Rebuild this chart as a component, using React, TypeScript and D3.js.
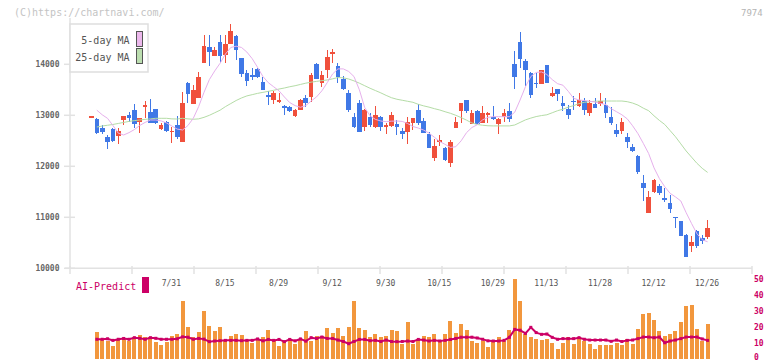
import React from "react";
import * as d3 from "d3";

const dates = [
  "7/9","7/10","7/11","7/12","7/16","7/17","7/18","7/19","7/22","7/23","7/24","7/25","7/26","7/29","7/30","7/31",
  "8/1","8/2","8/5","8/6","8/7","8/8","8/9","8/13","8/14","8/15","8/16","8/19","8/20","8/21","8/22","8/23","8/26","8/27","8/28","8/29","8/30",
  "9/2","9/3","9/4","9/5","9/6","9/9","9/10","9/11","9/12","9/13","9/17","9/18","9/19","9/20","9/24","9/25","9/26","9/27","9/30",
  "10/1","10/2","10/3","10/4","10/7","10/8","10/9","10/10","10/11","10/15","10/16","10/17","10/18","10/21","10/22","10/23","10/24","10/25","10/28","10/29","10/30","10/31",
  "11/1","11/5","11/6","11/7","11/8","11/11","11/12","11/13","11/14","11/15","11/18","11/19","11/20","11/21","11/22","11/25","11/26","11/28","11/29",
  "12/2","12/3","12/4","12/5","12/6","12/9","12/10","12/11","12/12","12/13","12/16","12/17","12/18","12/19","12/20","12/23","12/24","12/25","12/26"
];

const openP = [12975,12927,12757,12569,12731,12600,12908,13006,13104,12875,13169,13059,13124,12737,12875,12667,12810,12482,13633,13227,13345,14031,14345,14169,14431,14182,14392,14561,14129,13835,13790,13902,13659,13398,13300,13286,13188,13169,12992,13104,13345,13365,14012,13639,13888,14208,13967,13712,13443,12961,13235,12776,12961,12776,12973,12776,12796,12829,12692,12678,12855,13104,12894,12633,12157,12482,12365,12071,12745,13090,13300,12829,13090,12855,13006,12973,12829,12961,13084,14006,14431,14065,13835,13639,13608,13986,13384,13510,13241,13124,13286,13182,13280,13051,13222,13222,13202,12961,12712,12698,12569,12384,12202,11678,11090,11502,11614,11384,11286,11012,10927,10653,10437,10731,10600,10620];
const highP = [12990,12941,12810,12614,12757,12757,12986,13065,13222,12953,13286,13320,13124,12855,12888,12776,12992,13463,13659,13594,13843,14575,14575,14345,14575,14575,14790,14575,14129,13888,13922,13922,13745,13482,13482,13431,13202,13188,13118,13320,13398,13824,14031,13869,14280,14300,14031,13771,13496,13039,13300,13124,13039,13182,12986,12843,13059,12908,12745,12973,12947,13222,12941,12678,12535,12614,12384,12516,12973,13247,13300,13104,13104,13182,13071,13182,12953,13124,13235,14261,14627,14098,13855,13824,13888,13986,13561,13510,13378,13202,13384,13443,13333,13300,13333,13443,13333,13169,12829,12953,12647,12431,12222,11829,11516,11751,11647,11580,11437,11012,10927,10673,10639,10751,10653,10947];
const lowP = [12970,12633,12639,12339,12482,12437,12810,12875,12757,12659,12953,12849,12820,12712,12680,12463,12529,12482,13235,13227,13345,14031,13973,14169,14039,14031,14392,14084,13757,13575,13692,13725,13496,13202,13222,13235,13006,13071,12973,13104,13157,13267,13718,13561,13725,14020,13639,13496,13071,12757,12678,12698,12776,12757,12698,12633,12776,12614,12535,12437,12712,12810,12647,12365,12104,12398,12104,11992,12745,12843,13051,12829,12829,12855,12855,12908,12633,12875,12875,13516,13922,13580,13345,13529,13608,13639,13365,13286,13090,12927,13104,13157,13006,12992,13137,13188,12953,12810,12569,12633,12353,12286,11849,11325,11090,11482,11437,11306,11090,10796,10639,10227,10325,10392,10471,10569];
const closeP = [12985,12647,12678,12482,12502,12692,12986,12953,12835,12953,13202,12849,12855,12804,12692,12698,12580,13235,13412,13490,13751,14359,14247,14275,14169,14398,14653,14275,13804,13673,13745,13745,13502,13365,13431,13300,13137,13090,13104,13300,13247,13790,13718,13790,14143,14241,13757,13516,13104,12765,12678,13104,12810,13006,12765,12810,13006,12776,12633,12869,12947,12843,12659,12365,12398,12516,12124,12482,12875,13247,13090,13051,12829,13051,13039,12927,12922,13039,12927,13745,14098,13888,13398,13608,13888,13639,13431,13418,13188,13012,13274,13300,13104,13247,13149,13280,13051,12855,12633,12875,12482,12300,11894,11569,11404,11731,11482,11339,11169,10980,10639,10227,10510,10437,10541,10796];

const ma5 = [null,13100,13010,12940,12800,12650,12614,12660,12720,12800,12860,
  12908,12908,12890,12850,12790,12730,12712,12800,12941,13170,
  13450,13700,13870,14020,14200,14330,14355,14330,14240,14110,
  13940,13760,13640,13560,13480,13360,13250,13190,13157,13190,
  13280,13360,13480,13640,13810,13910,13910,13860,13760,13500,
  13150,12990,12920,12888,12875,12885,12888,12880,12840,12780,
  12750,12710,12650,12570,12485,12430,12370,12384,12500,12660,
  12760,12815,12910,12960,12973,12973,12973,12973,13060,13300,
  13560,13760,13840,13850,13800,13700,13620,13590,13470,13333,
  13300,13290,13275,13260,13235,13210,13130,13070,13010,12930,
  12795,12640,12450,12250,11970,11760,11600,11470,11400,11320,
  11090,10880,10680,10560,10520];

const ma25 = [null,12770,12790,12805,12820,12840,12860,12880,12895,12908,12920,
  12930,12941,12941,12941,12930,12927,12941,12930,12922,12930,
  12960,13000,13050,13100,13170,13230,13290,13340,13380,13405,
  13430,13450,13470,13490,13515,13535,13560,13580,13605,13630,
  13650,13665,13680,13692,13715,13740,13735,13712,13675,13630,
  13580,13530,13485,13440,13390,13345,13315,13295,13275,13255,
  13215,13185,13160,13130,13104,13070,13039,13000,12955,12905,
  12850,12820,12805,12795,12792,12792,12792,12792,12810,12860,
  12910,12945,12975,12995,13010,13050,13090,13120,13160,13190,
  13230,13255,13267,13275,13280,13280,13280,13280,13280,13267,
  13240,13200,13140,13090,12990,12900,12820,12700,12580,12440,
  12300,12180,12060,11960,11880];

const volume = [null,16.7,11.6,11,7.9,12,13,11,13.7,14.8,13.3,
  13.7,10.6,8.5,10.6,14.2,15.6,36.2,19.8,13.3,16.7,
  29.9,20.5,17.3,19.8,11,14.2,15.4,14.8,11.6,10,
  11.6,13.5,18,11,7.9,11,11.6,9.1,11.6,17.3,
  11,14.2,14.2,19.2,16.3,19.2,14.2,19.8,36.2,19.2,
  18,13.5,15.4,13.5,14.2,18,17.3,9.4,23,9.4,
  12.1,14,13.5,15.4,11,15.4,23.6,16.3,21.7,18,
  11,10,11,7.2,11,13.5,11,18,50,36.2,
  15.4,13.5,12.1,11.6,12.1,10,6,10,13.5,9.1,
  13.5,11,9.1,6,8.5,8.5,8.5,10,8.5,12.1,
  9.4,18.6,28,28.6,24.2,17.3,14.2,15.4,17.3,23,
  33,33.6,18.6,11,21.7];

const aiPredict = [null,12.1,12.1,12.4,11.4,12.1,12.6,12.1,13.1,12.7,12.1,
  13.1,12.7,12.1,12.1,12.1,12.4,13.6,13.4,12.1,12.6,
  12.2,10.6,11.0,11.2,11.4,11.4,11.4,11.2,11.4,11.4,
  12.3,11.1,12.0,11.4,12.0,10.6,12.0,11.1,12.3,10.9,
  13.1,12.6,13.5,12.6,12.6,11.6,10.7,9.3,10.7,12.0,
  12.0,11.2,11.4,10.7,11.6,10.7,10.6,10.7,11.0,10.7,
  12.0,11.6,11.0,11.4,11.0,11.4,12.0,12.6,13.4,13.4,
  13.4,12.9,12.1,11.1,11.0,11.0,11.4,13.3,18.3,17.8,
  15.8,19.6,16.3,15.2,15.4,13.3,12.1,12.5,12.5,12.5,
  13.1,12.1,11.6,11.6,11.6,11.6,10.8,11.6,10.7,11.4,
  11.6,12.5,13.5,13.5,13.1,13.5,9.9,11.0,11.6,12.5,
  13.5,13.5,13.5,12.3,11.4];

const xTickLabels = ["7/31","8/15","8/29","9/12","9/30","10/15","10/29","11/13","11/28","12/12","12/26"];
const priceTicks = [10000, 11000, 12000, 13000, 14000];
const volTicks = [0, 10, 20, 30, 40, 50];

const MONO = "'DejaVu Sans Mono', 'Liberation Mono', monospace";
const UP = "#f0503c";
const DOWN = "#4078e6";
const MAGENTA = "#cc0066";

export default function App() {
  const n = dates.length;
  const x = d3.scaleLinear().domain([0, n - 1]).range([91.5, 707.6]);
  const y = d3.scaleLinear().domain([10000, 15000]).range([268.3, 13.3]);
  const yv = d3.scaleLinear().domain([0, 50]).range([358.5, 279]);
  const grid = d3.scaleLinear().domain([0, 11]).range([70, 752]);

  const maLine = (arr: (number | null)[]) =>
    d3.line<number | null>()
      .defined((d) => d != null)
      .x((_, i) => x(i))
      .y((d) => y(d as number))(arr) || "";

  const aiLine =
    d3.line<number | null>()
      .defined((d) => d != null)
      .x((_, i) => x(i))
      .y((d) => yv(d as number))(aiPredict) || "";

  const bodyW = 4.6;
  const barW = 4;

  return (
    <svg
      width={772}
      height={361}
      style={{ position: "absolute", left: 0, top: 0, background: "#fff" }}
      fontFamily={MONO}
    >
      <rect x={0} y={0} width={772} height={361} fill="#fff" />
      <text x={14} y={16} fontSize={10} fill="#c4c4c4">(C)https://chartnavi.com/</text>
      <text x={741} y={16} fontSize={9} fill="#b4b4b4">7974</text>

      {/* axes */}
      <line x1={70} x2={70} y1={18} y2={268.3} stroke="#e2e2e2" strokeWidth={1.5} />
      <line x1={65} x2={752} y1={268.3} y2={268.3} stroke="#e2e2e2" strokeWidth={1.5} />
      {d3.range(0, 12).map((k) => (
        <line key={"gt" + k} x1={grid(k)} x2={grid(k)} y1={266} y2={274} stroke="#e2e2e2" strokeWidth={1.5} />
      ))}
      {priceTicks.map((v) => (
        <g key={"yt" + v}>
          <line x1={64} x2={75} y1={y(v)} y2={y(v)} stroke="#e2e2e2" strokeWidth={1.5} />
          <text x={59.5} y={y(v) + 3} fontSize={8} fill="#666" textAnchor="end" fontWeight="bold">{v}</text>
        </g>
      ))}
      {xTickLabels.map((lab) => {
        const i = dates.indexOf(lab);
        return (
          <text key={"xl" + lab} x={x(i) - 0.5} y={285.5} fontSize={8} fill="#555" textAnchor="middle">{lab}</text>
        );
      })}

      {/* candles */}
      <g shapeRendering="crispEdges">
        {dates.map((d, i) => {
          const o = openP[i], c = closeP[i], h = highP[i], l = lowP[i];
          const col = c >= o ? UP : DOWN;
          const top = y(Math.max(o, c));
          const bh = Math.max(1.5, Math.abs(y(o) - y(c)));
          return (
            <g key={"c" + i}>
              <rect x={x(i) - 0.5} y={y(h)} width={1} height={Math.max(1, y(l) - y(h))} fill={col} />
              <rect x={x(i) - bodyW / 2} y={top} width={bodyW} height={bh} fill={col} />
            </g>
          );
        })}
      </g>

      {/* moving averages */}
      <path d={maLine(ma25)} fill="none" stroke="#b4dca6" strokeWidth={1} />
      <path d={maLine(ma5)} fill="none" stroke="#e6b0ec" strokeWidth={1} />

      {/* legend */}
      <rect x={70} y={24} width={78} height={48} fill="#fff" stroke="#dedede" strokeWidth={1.5} />
      <text x={129.5} y={44} fontSize={10} fill="#555" textAnchor="end">5-day MA</text>
      <text x={129.5} y={60.5} fontSize={10} fill="#555" textAnchor="end">25-day MA</text>
      <rect x={136.5} y={31.5} width={6} height={15} fill="#ecb8ec" stroke="#555" strokeWidth={1} />
      <rect x={136.5} y={48.5} width={6} height={15} fill="#bcdeb0" stroke="#555" strokeWidth={1} />

      {/* volume panel */}
      <g shapeRendering="crispEdges">
        {volume.map((v, i) =>
          v == null ? null : (
            <rect key={"v" + i} x={x(i) - barW / 2} y={yv(v)} width={barW} height={yv(0) - yv(v)} fill="#f2973d" />
          )
        )}
      </g>
      <path d={aiLine} fill="none" stroke={MAGENTA} strokeWidth={2} />
      {aiPredict.map((v, i) =>
        v == null ? null : (
          <rect key={"a" + i} x={x(i) - 1.5} y={yv(v) - 1.5} width={3} height={3} fill={MAGENTA} />
        )
      )}
      <text x={76} y={289.5} fontSize={10} fill={MAGENTA}>AI-Predict</text>
      <rect x={142} y={277} width={7} height={16} fill={MAGENTA} />
      {volTicks.map((t) => (
        <text key={"vt" + t} x={754} y={Math.min(yv(t) + 3, 359.5)} fontSize={8} fill={MAGENTA} fontWeight="bold">{t}</text>
      ))}
    </svg>
  );
}
